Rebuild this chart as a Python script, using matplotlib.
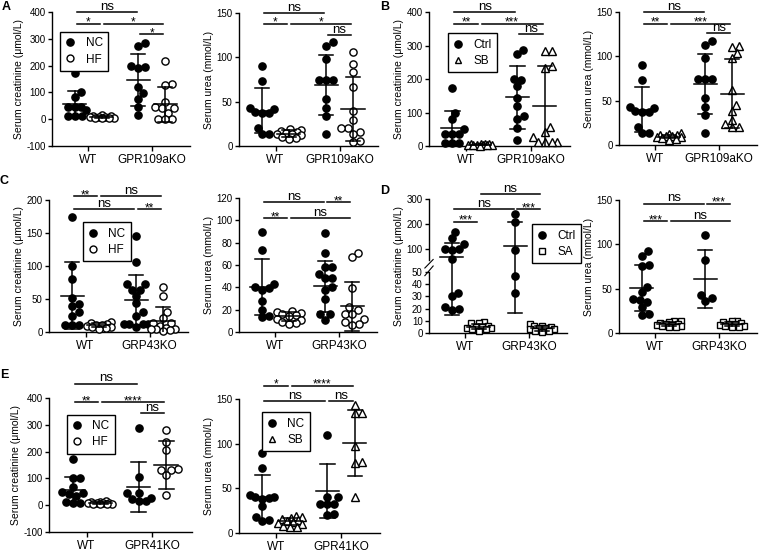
import matplotlib
matplotlib.use("Agg")
import matplotlib.pyplot as plt
import numpy as np
from matplotlib.lines import Line2D

plt.rcParams["font.family"] = ["Liberation Sans", "DejaVu Sans"]
plt.rcParams["axes.unicode_minus"] = False

W, H = 760, 552

# ---- data (order: grp1 WT, grp2 WT, grp1 KO, grp2 KO) ----
a1_vals = [[174, 102, 84, 46, 44, 44, 34, 11, 11, 11],
           [14, 12, 11, 10, 9, 8, 6, 5, 4, 3],
           [286, 274, 199, 196, 190, 119, 96, 77, 46, 17],
           [217, 130, 128, 65, 44, 42, 40, 24, 2, 0, 0]]
a1_mean = [55, 8, 145, 55]
a1_sd = [50, 5, 97, 65]

a2_vals = [[90, 73, 43, 42, 38, 37, 37, 20, 13, 13],
           [19, 18, 17, 16, 15, 14, 13, 12, 10, 9, 8],
           [117, 113, 98, 74, 74, 74, 53, 43, 34, 14],
           [106, 93, 83, 66, 39, 29, 20, 20, 16, 14, 6, 5]]
a2_mean = [40, 14, 69, 42]
a2_sd = [25, 4, 34, 36]

b1_vals = [[172, 100, 80, 52, 37, 37, 37, 10, 10, 10],
           [7, 6, 5, 5, 4, 4, 3, 3, 2, 2, 1],
           [287, 274, 199, 197, 179, 142, 119, 89, 80, 54, 17],
           [285, 285, 240, 232, 57, 42, 27, 12, 12, 12, 12]]
b1_mean = [55, 4, 146, 119]
b1_sd = [50, 2, 94, 121]

b2_vals = [[90, 73, 43, 42, 38, 37, 37, 20, 13, 13],
           [13, 12, 11, 11, 10, 10, 9, 9, 8, 7, 6],
           [117, 113, 98, 74, 74, 74, 53, 43, 34, 14],
           [112, 110, 104, 98, 62, 45, 38, 28, 24, 20, 20]]
b2_mean = [40, 9.5, 69, 58]
b2_sd = [25, 2, 34, 39]

c1_vals = [[175, 100, 80, 52, 43, 40, 30, 25, 10, 10, 10],
           [15, 13, 12, 11, 10, 9, 8, 7, 6, 5],
           [145, 106, 72, 72, 64, 64, 55, 44, 30, 25, 12, 12, 12, 12, 8],
           [68, 55, 30, 21, 14, 14, 9, 6, 4, 4, 4, 3, 2]]
c1_mean = [55, 10, 48, 17]
c1_sd = [51, 3, 38, 21]

c2_vals = [[90, 73, 43, 40, 39, 38, 28, 20, 14, 13],
           [19, 18, 17, 16, 15, 14, 12, 11, 9, 8, 7],
           [89, 71, 58, 58, 52, 48, 48, 40, 38, 30, 16, 16, 11],
           [71, 67, 39, 22, 20, 16, 16, 12, 9, 7, 6]]
c2_mean = [40, 14, 41, 23]
c2_sd = [25, 4, 23, 22]

d1_vals = [[169, 143, 120, 100, 99, 97, 60, 33, 30, 21, 20, 19],
           [9, 8, 8, 6, 5, 5, 4, 4, 3, 3, 2],
           [239, 207, 96, 47, 33],
           [7, 6, 6, 5, 4, 4, 3, 3, 2, 2, 1]]
d1_mean = [70, 5, 113, 4]
d1_sd = [55, 2, 97, 2]

d2_vals = [[92, 87, 77, 76, 52, 46, 38, 37, 35, 29, 21, 20],
           [14, 13, 12, 11, 10, 10, 9, 9, 8, 8, 7, 7],
           [110, 82, 43, 39, 36],
           [14, 13, 12, 11, 10, 10, 9, 8, 8, 7, 7]]
d2_mean = [51, 10, 61, 10]
d2_sd = [26, 2, 33, 2]

e1_vals = [[174, 102, 100, 67, 50, 44, 40, 35, 12, 10, 10],
           [14, 12, 11, 10, 9, 8, 7, 6, 5, 4, 3],
           [287, 106, 44, 44, 27, 25, 15, 15],
           [279, 237, 206, 134, 131, 131, 112, 37]]
e1_mean = [56, 8, 69, 151]
e1_sd = [50, 4, 93, 89]

e2_vals = [[90, 73, 42, 40, 40, 39, 38, 30, 18, 14, 13],
           [19, 18, 17, 16, 14, 13, 12, 11, 10, 8, 7, 7],
           [110, 40, 40, 33, 33, 32, 21, 20],
           [143, 134, 134, 97, 80, 78, 40]]
e2_mean = [40, 13, 47, 101]
e2_sd = [25, 4, 30, 37]

# significance bars: (column i, column j, y, label)
a1_sig = [(0, 2, 400, "ns"), (0, 1, 356, "*"), (1, 3, 356, "*"), (2, 3, 317, "*")]
a2_sig = [(0, 2, 150, "ns"), (0, 1, 138, "*"), (1, 3, 138, "*"), (2, 3, 125, "ns")]
b1_sig = [(0, 2, 400, "ns"), (0, 1, 365, "**"), (1, 3, 365, "***"), (2, 3, 334, "ns")]
b2_sig = [(0, 2, 150, "ns"), (0, 1, 137, "**"), (1, 3, 137, "***"), (2, 3, 126, "ns")]
c1_sig = [(0, 1, 206, "**"), (1, 3, 206, "ns"), (0, 2, 186, "ns"), (2, 3, 186, "**")]
c2_sig = [(0, 2, 116, "ns"), (2, 3, 116, "**"), (0, 1, 102, "**"), (1, 3, 102, "ns")]
d1_sig = [(1, 3, 321, "ns"), (0, 2, 260, "ns"), (0, 1, 209, "***"), (2, 3, 260, "***")]
d2_sig = [(0, 2, 146, "ns"), (2, 3, 146, "***"), (0, 1, 126, "***"), (1, 3, 126, "ns")]
e1_sig = [(0, 2, 454, "ns"), (0, 1, 385, "**"), (1, 3, 385, "****"), (2, 3, 344, "ns")]
e2_sig = [(0, 1, 165, "*"), (1, 3, 165, "****"), (0, 2, 148, "ns"), (2, 3, 148, "ns")]

CREA = "Serum creatinine (\u03bcmol/L)"
UREA = "Serum urea (mmol/L)"

XLIM = (-0.57, 1.6)
DX = 0.21      # column offset from group centre
MW = 0.18      # half width of mean line
CW = 0.11      # half width of SD cap


def brk_fwd(v):
    v = np.asarray(v, dtype=float)
    return np.where(v <= 50, v * 1.22,
                    np.where(v < 56, 61 + (v - 50) * 2.0, 73 + (v - 56) * 0.25))


def brk_inv(u):
    u = np.asarray(u, dtype=float)
    return np.where(u <= 61, u / 1.22,
                    np.where(u < 73, 50 + (u - 61) / 2.0, 56 + (u - 73) / 0.25))


def swarm(ax, x0, vals, d=7.0, maxw=12):
    pts = ax.transData.transform(np.column_stack([np.full(len(vals), x0), vals]))
    cand = sorted(np.arange(-maxw, maxw + 0.01, 1.0), key=lambda c: (abs(c), -c))
    placed = []
    out = pts[:, 0].copy()
    for k in np.argsort(pts[:, 1]):
        px, py = pts[k]
        best, bestd = 0.0, -1.0
        for c in cand:
            if not placed:
                best = c
                break
            dist = min(np.hypot(px + c - qx, py - qy) for qx, qy in placed)
            if dist >= d:
                best = c
                break
            if dist > bestd:
                best, bestd = c, dist
        out[k] = px + best
        placed.append((px + best, py))
    return ax.transData.inverted().transform(np.column_stack([out, pts[:, 1]]))[:, 0]


fig = plt.figure(figsize=(W / 100, H / 100), dpi=100)


def draw_panel(rect, vals, means, sds, sig, ylim, yticks, ylabel, groups,
               labels, marker2, legend_at=None, broken=False):
    l, t, r, b = rect
    ax = fig.add_axes([l / W, 1 - b / H, (r - l) / W, (b - t) / H])
    if broken:
        ax.set_yscale("function", functions=(brk_fwd, brk_inv))
    ax.set_xlim(*XLIM)
    ax.set_ylim(*ylim)
    ax.set_yticks(yticks)
    ax.set_yticklabels([str(v) for v in yticks])
    ax.set_xticks([0, 1])
    ax.set_xticklabels(groups)
    for s in ("top", "right"):
        ax.spines[s].set_visible(False)
    for s in ("left", "bottom"):
        ax.spines[s].set_linewidth(1.0)
    ax.tick_params(axis="y", length=3, width=1, labelsize=7, pad=1.5)
    ax.tick_params(axis="x", length=3.5, width=1, labelsize=8.5, pad=2)
    ax.set_ylabel(ylabel, fontsize=7.5, labelpad=2)
    ax.minorticks_off()

    if broken:
        ax.spines["left"].set_bounds(0, 50)
        yx = ax.get_yaxis_transform()
        ax.plot([0, 0], [56, ylim[1]], color="k", lw=1.0, transform=yx, clip_on=False)
        for y0 in (47, 52):
            ax.plot([-0.03, 0.03], [y0, y0 + 6], color="k", lw=0.8,
                    transform=yx, clip_on=False)

    cols = [-DX, DX, 1 - DX, 1 + DX]
    for i, (x, v) in enumerate(zip(cols, vals)):
        first = i % 2 == 0
        mk = "o" if first else marker2
        ms = 5.2 if mk != "s" else 4.6
        xs = swarm(ax, x, v)
        ax.plot(xs, v, ls="none", marker=mk, ms=ms, mfc="k" if first else "white",
                mec="k", mew=1.0, zorder=3, clip_on=False)
        m, s = means[i], sds[i]
        ax.plot([x - MW, x + MW], [m, m], color="k", lw=1.1, zorder=4)
        ax.plot([x, x], [m - s, m + s], color="k", lw=1.1, zorder=4)
        for yy in (m - s, m + s):
            ax.plot([x - CW, x + CW], [yy, yy], color="k", lw=1.1, zorder=4)

    for i, j, y, lab in sig:
        x1, x2 = cols[i] + 0.03, cols[j] - 0.03
        ax.plot([x1, x2], [y, y], color="k", lw=1.1, clip_on=False)
        ns = lab == "ns"
        ax.annotate(lab, ((x1 + x2) / 2, y), xytext=(0, 1.5 if ns else -1.5),
                    textcoords="offset points", ha="center", va="baseline",
                    fontsize=9.5 if ns else 8.5, annotation_clip=False)

    if legend_at is not None:
        handles = [Line2D([], [], ls="none", marker="o", ms=5.2, mfc="k", mec="k", mew=1.0),
                   Line2D([], [], ls="none", marker=marker2, ms=5.0, mfc="white",
                          mec="k", mew=1.0)]
        leg = ax.legend(handles, labels, loc="upper left", bbox_to_anchor=legend_at,
                        frameon=True, fancybox=False, edgecolor="k", framealpha=1,
                        fontsize=8.5, handlelength=0.8, handletextpad=0.9,
                        borderpad=0.45, labelspacing=0.35, borderaxespad=0)
        leg.get_frame().set_linewidth(1.0)
    return ax


g109 = ["WT", "GPR109aKO"]
g43 = ["WT", "GRP43KO"]
g41 = ["WT", "GPR41KO"]

draw_panel((52, 12, 190, 146), a1_vals, a1_mean, a1_sd, a1_sig, (-100, 400),
           [-100, 0, 100, 200, 300, 400], CREA, g109, ["NC", "HF"], "o", (0.06, 0.85))
draw_panel((239, 13, 378, 146), a2_vals, a2_mean, a2_sd, a2_sig, (0, 150),
           [0, 50, 100, 150], UREA, g109, ["NC", "HF"], "o")
draw_panel((429, 12, 570, 146), b1_vals, b1_mean, b1_sd, b1_sig, (0, 400),
           [0, 100, 200, 300, 400], CREA, g109, ["Ctrl", "SB"], "^", (0.135, 0.84))
draw_panel((619, 12, 757, 145), b2_vals, b2_mean, b2_sd, b2_sig, (0, 150),
           [0, 50, 100, 150], UREA, g109, ["Ctrl", "SB"], "^")
draw_panel((49, 200, 188, 332), c1_vals, c1_mean, c1_sd, c1_sig, (0, 200),
           [0, 50, 100, 150, 200], CREA, g43, ["NC", "HF"], "o", (0.245, 0.83))
draw_panel((239, 198, 377, 332), c2_vals, c2_mean, c2_sd, c2_sig, (0, 120),
           [0, 20, 40, 60, 80, 100, 120], UREA, g43, ["NC", "HF"], "o")
draw_panel((429, 199, 567, 333), d1_vals, d1_mean, d1_sd, d1_sig, (0, 300),
           [0, 10, 20, 30, 40, 50, 100, 200, 300], CREA, g43, ["Ctrl", "SA"], "s",
           (0.745, 0.81), broken=True)
draw_panel((619, 200, 757, 333), d2_vals, d2_mean, d2_sd, d2_sig, (0, 150),
           [0, 50, 100, 150], UREA, g43, ["Ctrl", "SA"], "s")
draw_panel((49, 398, 192, 532), e1_vals, e1_mean, e1_sd, e1_sig, (-100, 400),
           [-100, 0, 100, 200, 300, 400], CREA, g41, ["NC", "HF"], "o", (0.126, 0.875))
draw_panel((239, 399, 380, 533), e2_vals, e2_mean, e2_sd, e2_sig, (0, 150),
           [0, 50, 100, 150], UREA, g41, ["NC", "SB"], "^", (0.163, 0.9))

for lab, x, y in [("A", 2, 1), ("B", 380, 1), ("C", 0, 175), ("D", 380, 185), ("E", 0, 369)]:
    fig.text(x / W, 1 - y / H, lab, fontsize=9, fontweight="bold", va="top", ha="left")

fig.savefig("out.png", dpi=100)
